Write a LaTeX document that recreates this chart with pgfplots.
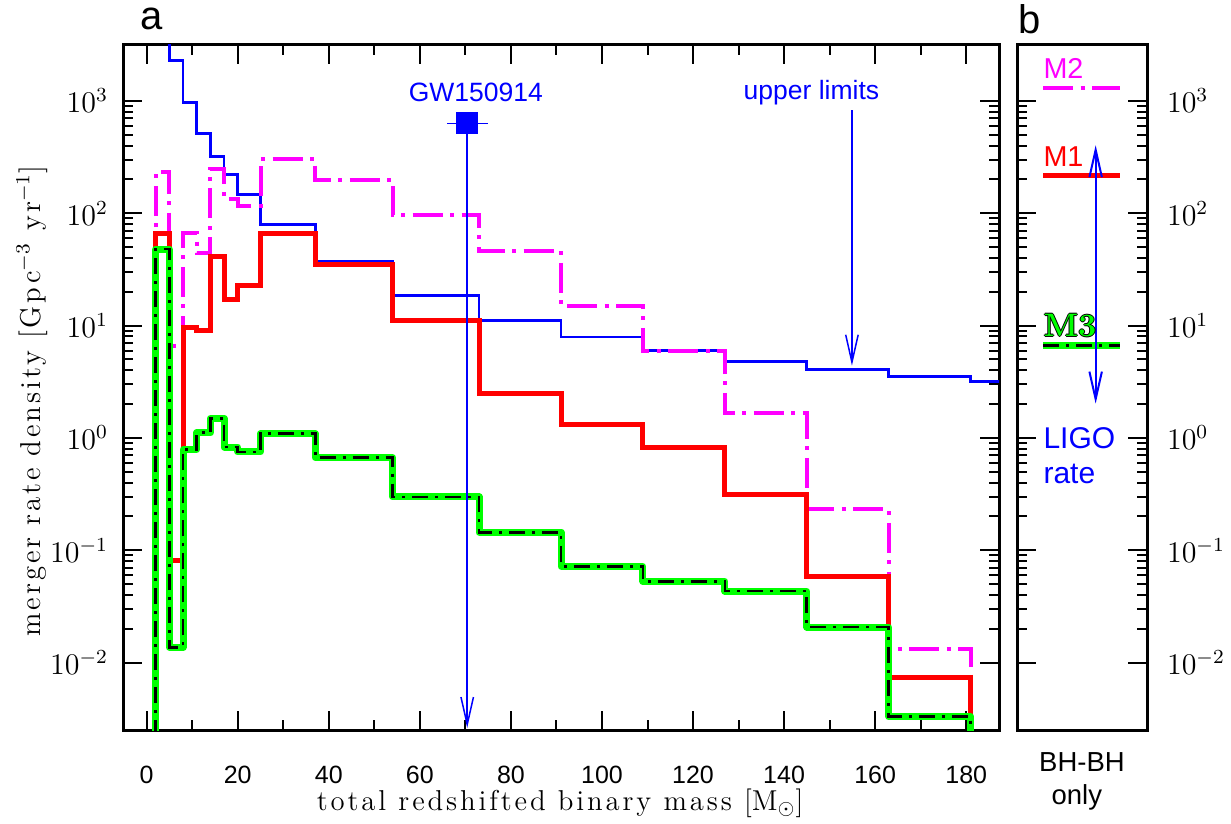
\documentclass[border=0pt]{standalone}
\usepackage{fontspec}
\setsansfont{Liberation Sans}
\newfontfamily\labelfont[LetterSpace=10]{Latin Modern Roman}
\usepackage{pgfplots}
\pgfplotsset{compat=1.18}
\usepackage{pgfplotstable}
\usetikzlibrary{arrows.meta}

\definecolor{limblue}{RGB}{0,0,255}
\definecolor{mtwo}{RGB}{255,0,255}
\definecolor{mone}{RGB}{255,0,0}
\definecolor{mthree}{RGB}{0,255,0}

% step histograms: left bin edge and merger rate density [Gpc^-3 yr^-1]
\pgfplotstableread{
m rate
5 1e5
5 2300
8 968
11 513
14 322
17 221
20 148
25 80
37 37
54 18.4
73 11.1
91 7.9
109 6.0
127 4.8
145 4.06
163 3.53
181 3.19
199 3.19
}\upperlim

\pgfplotstableread{
m rate
2 1e-5
2 233
5 6.6
8 67
11 44
14 250
17 135
20 116
25 303
37 197
54 96
73 46
91 15
109 5.9
127 1.67
145 0.231
163 0.0131
181 1e-5
}\modeltwo

\pgfplotstableread{
m rate
2 1e-5
2 66
5 0.081
8 9.7
11 9.0
14 41
17 17
20 22.8
25 66
37 35
54 11.1
73 2.51
91 1.32
109 0.82
127 0.315
145 0.059
163 0.0074
181 1e-5
}\modelone

\pgfplotstableread{
m rate
2 1e-5
2 48
5 0.0137
8 0.79
11 1.11
14 1.49
17 0.83
20 0.75
25 1.09
37 0.668
54 0.298
73 0.145
91 0.072
109 0.053
127 0.0433
145 0.0207
163 0.0033
181 1e-5
}\modelthree

\tikzset{
  m2line/.style={mtwo, line width=1.6pt, dash pattern=on 12pt off 3pt on 1.6pt off 3pt},
  m1line/.style={mone, line width=2pt},
  m3under/.style={mthree, line width=2.8pt, line join=round},
  m3over/.style={black, line width=1.1pt, dash pattern=on 6.4pt off 2.8pt on 1.2pt off 2.8pt},
  barb/.style={-{Straight Barb[length=11pt,width=5pt]}},
  dbarb/.style={{Straight Barb[length=11pt,width=5pt]}-{Straight Barb[length=11pt,width=5pt]}},
  lab/.style={font=\labelfont\fontsize{11.5}{13}\selectfont},
  m3text/.style={anchor=south west, inner sep=0pt, font=\rmfamily\bfseries\fontsize{13}{14}\selectfont},
}

\begin{document}
\begin{tikzpicture}
\useasboundingbox (0pt,0pt) rectangle (492.4pt,329.2pt);

% panel a: merger rate density against total mass
\begin{axis}[
  at={(49.2pt,37.2pt)}, anchor=south west, scale only axis,
  width=350.4pt, height=274.1pt,
  xmin=-5.2, xmax=187.2,
  ymode=log, ymin=0.002512, ymax=3162.3,
  xtick={0,20,40,60,80,100,120,140,160,180},
  xticklabels={0,20,40,60,80,100,120,140,160,180},
  minor x tick num=1,
  ytick={0.01,0.1,1,10,100,1000},
  yticklabels={$10^{-2}$,$10^{-1}$,$10^{0}$,$10^{1}$,$10^{2}$,$10^{3}$},
  xticklabel style={font=\sffamily\fontsize{10}{12}\selectfont, yshift=-11pt},
  yticklabel style={font=\fontsize{11.5}{13}\selectfont, xshift=-2.5pt},
  tick align=inside,
  major tick length=7.6pt, minor tick length=4pt,
  every tick/.style={black, line width=0.8pt},
  axis line style={line width=1.2pt},
  clip mode=individual,
]
\addplot[limblue, line width=1.1pt, const plot] table[x=m, y=rate] {\upperlim};
\addplot[m2line, const plot] table[x=m, y=rate] {\modeltwo};
\addplot[m1line, const plot] table[x=m, y=rate] {\modelone};
\addplot[m3under, const plot] table[x=m, y=rate] {\modelthree};
\addplot[m3over, const plot] table[x=m, y=rate] {\modelthree};

% GW150914 with its mass range, and an arrow down to the axis
\addplot[limblue, line width=0.6pt, barb] coordinates {(70.4,630) (70.4,0.00262)};
\addplot[limblue, only marks, mark=square*, mark size=4.2pt,
  error bars/.cd, x dir=both, x explicit, error mark=none,
  error bar style={line width=0.7pt}]
  coordinates {(70.4,630) +- (4.5,0)};
\node[limblue, font=\sffamily\fontsize{10.6}{12}\selectfont] at (axis cs:72.3,1195) {GW150914};

% upper limits label and arrow
\node[limblue, font=\sffamily\fontsize{10.6}{12}\selectfont] at (axis cs:146,1180) {upper limits};
\addplot[limblue, line width=0.6pt, barb] coordinates {(154.9,826) (154.9,4.4)};

\node[lab] at (axis description cs:0.499,-0.1065) {total redshifted binary mass [$\mathrm{M}_\odot$]};
\node[lab, rotate=90] at (axis description cs:-0.104,0.48) {merger rate density [Gpc$^{-3}$ yr$^{-1}$]};
\node[font=\sffamily\fontsize{16}{18}\selectfont] at (axis description cs:0.033,1.037) {a};
\end{axis}

% panel b: rates of BH-BH mergers only
\begin{axis}[
  at={(406.8pt,37.2pt)}, anchor=south west, scale only axis,
  width=52pt, height=274.1pt,
  xmin=0, xmax=1, xtick=\empty,
  ymode=log, ymin=0.002512, ymax=3162.3,
  ytick={0.01,0.1,1,10,100,1000},
  yticklabels={$10^{-2}$,$10^{-1}$,$10^{0}$,$10^{1}$,$10^{2}$,$10^{3}$},
  yticklabel pos=right,
  yticklabel style={font=\fontsize{11.5}{13}\selectfont, xshift=4.5pt},
  tick align=inside,
  major tick length=7.6pt, minor tick length=4pt,
  every tick/.style={black, line width=0.8pt},
  axis line style={line width=1.2pt},
  clip mode=individual,
]
\addplot[m2line] coordinates {(0.2,1316) (0.79,1316)};
\addplot[m1line] coordinates {(0.2,218) (0.79,218)};
\addplot[m3under] coordinates {(0.2,6.7) (0.79,6.7)};
\addplot[m3over] coordinates {(0.2,6.7) (0.79,6.7)};
\addplot[limblue, line width=0.8pt, dbarb] coordinates {(0.605,403) (0.605,2.02)};

\node[mtwo, anchor=south west, inner sep=0pt, font=\sffamily\fontsize{11.5}{13}\selectfont] at (axis cs:0.2,1560) {M2};
\node[mone, anchor=south west, inner sep=0pt, font=\sffamily\fontsize{11.5}{13}\selectfont] at (axis cs:0.2,260) {M1};
\node[m3text, black, xshift=0.4pt] at (axis cs:0.2,7.9) {M3};
\node[m3text, black, xshift=-0.4pt] at (axis cs:0.2,7.9) {M3};
\node[m3text, black, yshift=0.4pt] at (axis cs:0.2,7.9) {M3};
\node[m3text, black, yshift=-0.4pt] at (axis cs:0.2,7.9) {M3};
\node[m3text, mthree] at (axis cs:0.2,7.9) {M3};

\node[limblue, anchor=west, inner sep=0pt, font=\sffamily\fontsize{12}{14}\selectfont] at (axis cs:0.2,1.0) {LIGO};
\node[limblue, anchor=west, inner sep=0pt, font=\sffamily\fontsize{12}{14}\selectfont] at (axis cs:0.2,0.48) {rate};

\node[font=\sffamily\fontsize{11}{13}\selectfont] at (axis description cs:0.5,-0.047) {BH-BH};
\node[font=\sffamily\fontsize{11}{13}\selectfont] at (axis description cs:0.46,-0.098) {only};
\node[font=\sffamily\fontsize{16}{18}\selectfont] at (axis description cs:0.1,1.037) {b};
\end{axis}
\end{tikzpicture}
\end{document}
